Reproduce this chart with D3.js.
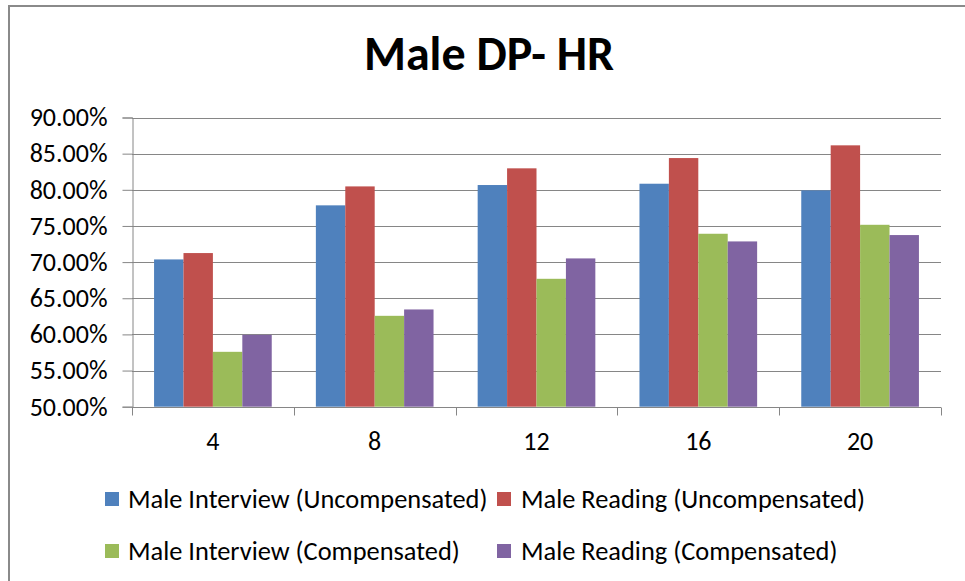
<!DOCTYPE html>
<html>
<head>
<meta charset="utf-8">
<script src="https://cdn.jsdelivr.net/npm/d3@7"></script>
<style>
  html, body { margin: 0; padding: 0; background: #fff; }
  svg { display: block; }
  text { font-family: "Carlito", "Liberation Sans", Arial, sans-serif; }
</style>
</head>
<body>
<svg id="chart" width="965" height="581"></svg>
<script>
const title = "Male DP- HR";
const categories = ["4", "8", "12", "16", "20"];
const seriesNames = [
  "Male Interview (Uncompensated)",
  "Male Reading (Uncompensated)",
  "Male Interview (Compensated)",
  "Male Reading (Compensated)"
];
const interviewUncomp = [0.7037, 0.7785, 0.8066, 0.8084, 0.7992];
const readingUncomp   = [0.7125, 0.8047, 0.8297, 0.8439, 0.8615];
const interviewComp   = [0.5759, 0.6257, 0.6769, 0.7392, 0.7516];
const readingComp     = [0.5994, 0.6345, 0.7051, 0.7286, 0.7374];
const yTicks = [0.50, 0.55, 0.60, 0.65, 0.70, 0.75, 0.80, 0.85, 0.90];
const colors = ["#4F81BD", "#C0504D", "#9BBB59", "#8064A2"];

const seriesValues = [interviewUncomp, readingUncomp, interviewComp, readingComp];

const svg = d3.select("#chart");
const W = 965, H = 581;
const plot = { left: 132, right: 941, top: 117.5, bottom: 406.7 };
const axisColor = "#868686";
const font = "Carlito, 'Liberation Sans', Arial, sans-serif";

// chart border (left & top visible; right/bottom cropped)
svg.append("rect")
  .attr("x", 9).attr("y", 6)
  .attr("width", W + 20).attr("height", H + 20)
  .attr("fill", "#fff")
  .attr("stroke", "#8a8a8a").attr("stroke-width", 2);

// title
svg.append("text")
  .attr("x", 489).attr("y", 70)
  .attr("text-anchor", "middle")
  .attr("font-size", 48).attr("font-weight", "bold")
  .attr("fill", "#000")
  .text(title);

const x0 = d3.scaleBand().domain(categories).range([plot.left, plot.right]).padding(0);
const x1 = d3.scaleBand().domain(seriesNames).range([0, x0.bandwidth()]).paddingInner(0).paddingOuter(0.75);
const y = d3.scaleLinear().domain([0.5, 0.9]).range([plot.bottom, plot.top]);

// gridlines
svg.append("g").selectAll("line").data(yTicks.filter(t => t > 0.5)).join("line")
  .attr("x1", plot.left).attr("x2", plot.right)
  .attr("y1", d => Math.round(y(d)) + 0.5).attr("y2", d => Math.round(y(d)) + 0.5)
  .attr("stroke", axisColor).attr("stroke-width", 1);

// bars
const groups = svg.append("g").selectAll("g").data(categories).join("g")
  .attr("transform", c => `translate(${x0(c)},0)`);
groups.selectAll("rect")
  .data((c, i) => seriesNames.map((s, j) => ({ s, j, v: seriesValues[j][i] })))
  .join("rect")
  .attr("x", d => x1(d.s))
  .attr("width", x1.bandwidth())
  .attr("y", d => y(d.v))
  .attr("height", d => y(0.5) - y(d.v))
  .attr("fill", d => colors[d.j]);

// y axis
const yAxis = d3.axisLeft(y).tickValues(yTicks).tickSize(10).tickPadding(15)
  .tickFormat(d => d3.format(".2%")(d));
const gy = svg.append("g").attr("transform", `translate(${plot.left + 0.5},0)`).call(yAxis);
gy.select(".domain").attr("stroke", axisColor);
gy.selectAll(".tick line").attr("stroke", axisColor);
gy.selectAll(".tick text").attr("font-size", 26).attr("fill", "#000")
  .attr("font-family", font);

// x axis
const gx = svg.append("g").attr("transform", `translate(0,${Math.round(plot.bottom) + 0.5})`)
  .call(d3.axisBottom(x0).tickSize(0).tickPadding(24));
gx.select(".domain").attr("stroke", axisColor).attr("d", `M${plot.left},0H${plot.right}`);
gx.selectAll(".tick text").attr("font-size", 26).attr("fill", "#000")
  .attr("font-family", font);
// category boundary tick marks
const bounds = categories.map(c => x0(c)).concat([plot.right]);
gx.append("g").selectAll("line").data(bounds).join("line")
  .attr("x1", d => Math.round(d) + 0.5).attr("x2", d => Math.round(d) + 0.5)
  .attr("y1", 0).attr("y2", 8)
  .attr("stroke", axisColor);

// legend
const legendPos = [
  { mx: 105, tx: 128, y: 499 },
  { mx: 497, tx: 521, y: 499 },
  { mx: 105, tx: 128, y: 551 },
  { mx: 497, tx: 521, y: 551 }
];
const lg = svg.append("g").selectAll("g").data(seriesNames).join("g");
lg.append("rect")
  .attr("x", (d, i) => legendPos[i].mx)
  .attr("y", (d, i) => legendPos[i].y - 7)
  .attr("width", 14).attr("height", 14)
  .attr("fill", (d, i) => colors[i]);
lg.append("text")
  .attr("x", (d, i) => legendPos[i].tx)
  .attr("y", (d, i) => legendPos[i].y + 9)
  .attr("font-size", 26.4).attr("fill", "#000")
  .text(d => d);
</script>
</body>
</html>
